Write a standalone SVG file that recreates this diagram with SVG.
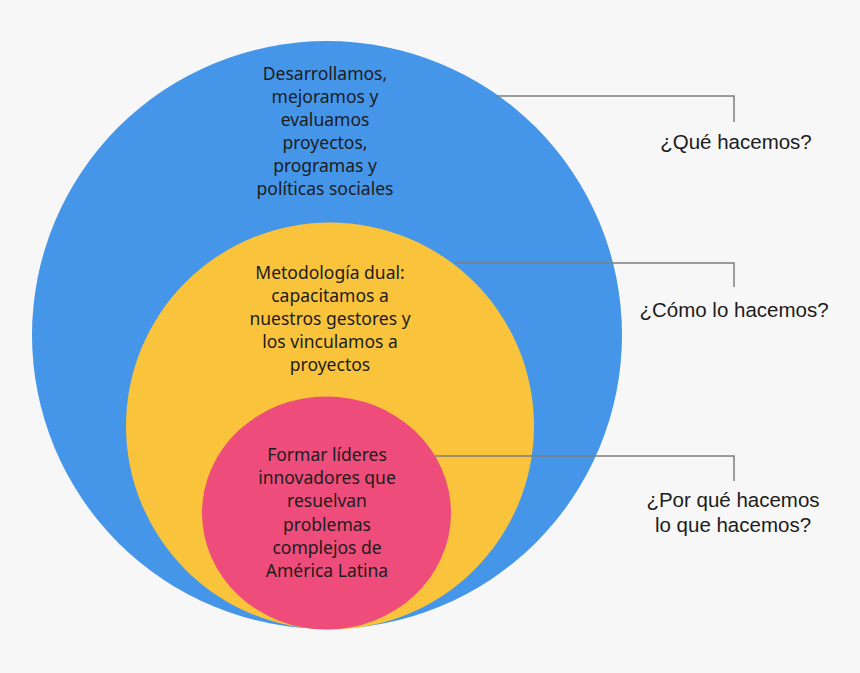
<svg xmlns="http://www.w3.org/2000/svg" width="860" height="673" viewBox="0 0 860 673">
<style>
.t{font-family:"Noto Sans","Liberation Sans",sans-serif;font-size:17.5px;fill:#1c1c1c;text-anchor:middle}
.q{font-family:"Liberation Sans",Arial,sans-serif;font-size:20.5px;fill:#1c1c1c;text-anchor:middle}
.c{fill:none;stroke:#7f7f7f;stroke-width:1.5}
</style>
<rect width="860" height="673" fill="#f7f7f7"/>
<g id="blue"><ellipse cx="327" cy="335" rx="295" ry="294" fill="#4596e9"/>
<text class="t"><tspan x="325" y="80">Desarrollamos,</tspan><tspan x="325" y="103">mejoramos y</tspan><tspan x="325" y="126">evaluamos</tspan><tspan x="325" y="149">proyectos,</tspan><tspan x="325" y="172">programas y</tspan><tspan x="325" y="195">políticas sociales</tspan></text></g>
<g id="yellow"><ellipse cx="330" cy="426" rx="204" ry="203.5" fill="#f9c33c"/>
<text class="t"><tspan x="330" y="279">Metodología dual:</tspan><tspan x="330" y="302">capacitamos a</tspan><tspan x="330" y="325">nuestros gestores y</tspan><tspan x="330" y="348">los vinculamos a</tspan><tspan x="330" y="371">proyectos</tspan></text></g>
<g id="pink"><ellipse cx="326.5" cy="513" rx="124.5" ry="116.5" fill="#ee4c7a"/>
<text class="t"><tspan x="327" y="461">Formar líderes</tspan><tspan x="327" y="484">innovadores que</tspan><tspan x="327" y="507">resuelvan</tspan><tspan x="327" y="531">problemas</tspan><tspan x="327" y="554">complejos de</tspan><tspan x="327" y="577">América Latina</tspan></text></g>
<g id="connectors">
<polyline class="c" points="497,96 734,96 734,122"/>
<polyline class="c" points="455,263 734,263 734,287"/>
<polyline class="c" points="435,456 734,456 734,481"/>
</g>
<g id="labels">
<text class="q" x="736" y="149">¿Qué hacemos?</text>
<text class="q" x="734" y="317">¿Cómo lo hacemos?</text>
<text class="q"><tspan x="733" y="507">¿Por qué hacemos</tspan><tspan x="733" y="532">lo que hacemos?</tspan></text>
</g>
</svg>
